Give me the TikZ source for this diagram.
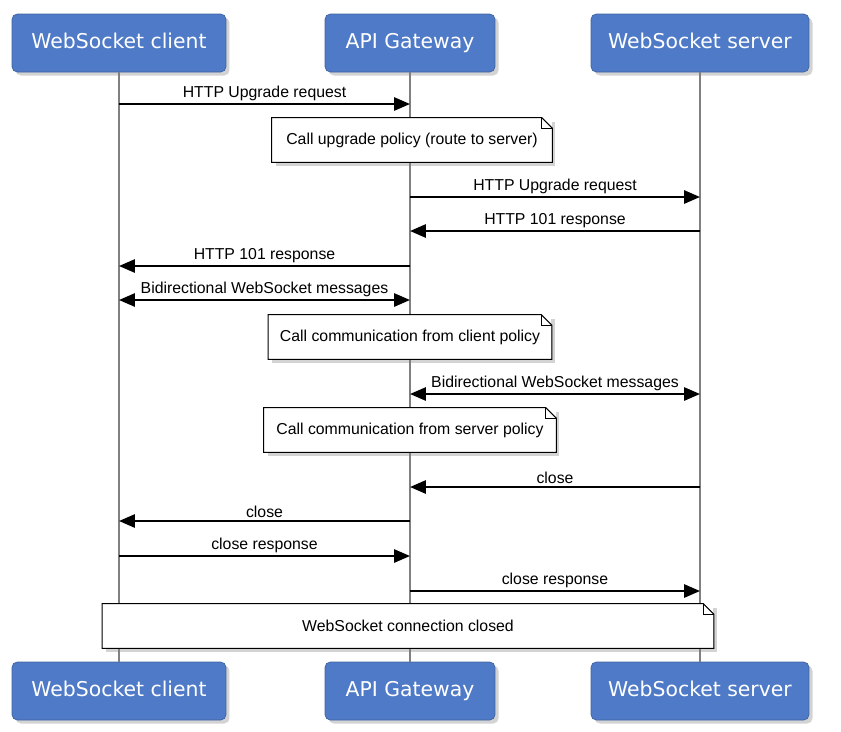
\documentclass[tikz,border=0pt]{standalone}
\usepackage{fontspec}
\setmainfont{Liberation Sans}
\newfontfamily\actorfont{DejaVu Sans}
\usetikzlibrary{arrows.meta,shadows}
\definecolor{boxblue}{HTML}{4F7AC7}
\newcommand{\notefold}[1]{%
  \draw[line width=0.6pt] (#1.south west) -- (#1.north west) -- ([xshift=-6pt]#1.north east)
    -- ([yshift=-6pt]#1.north east) -- (#1.south east) -- cycle;
  \draw[line width=0.5pt] ([xshift=-6pt]#1.north east) |- ([yshift=-6pt]#1.north east);}

\begin{document}
\begin{tikzpicture}[x=0.02cm,y=-0.02cm,
  actor/.style={fill=boxblue, draw=boxblue!80!black, rounded corners=3pt, text=white,
    font=\actorfont\fontsize{11.6}{13}\selectfont, minimum height=1.16cm, inner sep=0pt,
    text height=1.6ex, text depth=0.4ex,
    drop shadow={shadow xshift=2pt, shadow yshift=-2pt, opacity=0.35}},
  note/.style={fill=white, minimum height=0.88cm, inner sep=0pt, font=\fontsize{9}{11}\selectfont,
    drop shadow={shadow xshift=2pt, shadow yshift=-2pt, opacity=0.35}},
  msg/.style={line width=1.1pt, -{Triangle[length=9pt,width=7.5pt]}},
  both/.style={line width=1.1pt, {Triangle[length=9pt,width=7.5pt]}-{Triangle[length=9pt,width=7.5pt]}},
  lbl/.style={above, inner sep=1.5pt, font=\fontsize{9}{11}\selectfont},
  lifeline/.style={draw=gray, line width=0.7pt}]
  \useasboundingbox (0,0) rectangle (841,731);
  % participants, top and bottom
  \node[actor, minimum width=4.28cm] (clientT) at (119,43) {WebSocket client};
  \node[actor, minimum width=3.4cm] (gateT) at (410,43) {API Gateway};
  \node[actor, minimum width=4.36cm] (serverT) at (700,43) {WebSocket server};
  \node[actor, minimum width=4.28cm] (clientB) at (119,691) {WebSocket client};
  \node[actor, minimum width=3.4cm] (gateB) at (410,691) {API Gateway};
  \node[actor, minimum width=4.36cm] (serverB) at (700,691) {WebSocket server};
  \draw[lifeline] (clientT) -- (clientB);
  \draw[lifeline] (gateT) -- (gateB);
  \draw[lifeline] (serverT) -- (serverB);
  % message rows on the lifelines
  \foreach \row/\y in {1/104,2/197,3/231,4/266,5/300,6/394,7/487,8/521,9/556,10/591}{
    \coordinate (c\row) at (clientT |- 0,\y);
    \coordinate (g\row) at (gateT |- 0,\y);
    \coordinate (s\row) at (serverT |- 0,\y);
  }
  \draw[msg] (c1) -- node[lbl]{HTTP Upgrade request} (g1);
  \draw[msg] (g2) -- node[lbl]{HTTP Upgrade request} (s2);
  \draw[msg] (s3) -- node[lbl]{HTTP 101 response} (g3);
  \draw[msg] (g4) -- node[lbl]{HTTP 101 response} (c4);
  \draw[both] (c5) -- node[lbl]{Bidirectional WebSocket messages} (g5);
  \draw[both] (g6) -- node[lbl]{Bidirectional WebSocket messages} (s6);
  \draw[msg] (s7) -- node[lbl]{close} (g7);
  \draw[msg] (g8) -- node[lbl]{close} (c8);
  \draw[msg] (c9) -- node[lbl]{close response} (g9);
  \draw[msg] (g10) -- node[lbl]{close response} (s10);
  % notes
  \node[note, minimum width=5.6cm] (upgrade) at (412,140) {Call upgrade policy (route to server)};
  \notefold{upgrade}
  \node[note, minimum width=5.66cm] (fromclient) at (410,337) {Call communication from client policy};
  \notefold{fromclient}
  \node[note, minimum width=5.84cm] (fromserver) at (410,430) {Call communication from server policy};
  \notefold{fromserver}
  \node[note, minimum width=12.22cm] (closed) at (408,626) {WebSocket connection closed};
  \notefold{closed}
\end{tikzpicture}
\end{document}
